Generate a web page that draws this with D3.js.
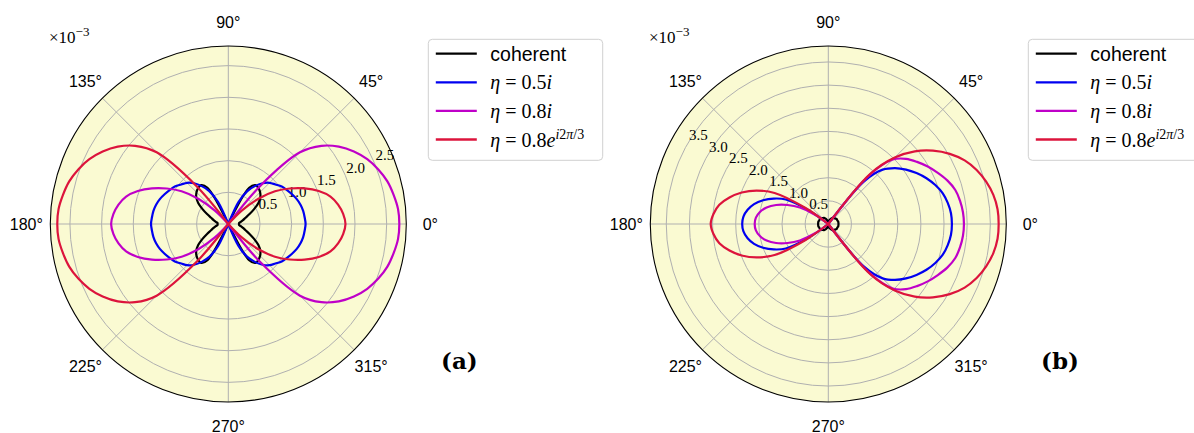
<!DOCTYPE html>
<html>
<head>
<meta charset="utf-8">
<script src="https://cdn.jsdelivr.net/npm/d3@7/dist/d3.min.js"></script>
<style>
body { margin: 0; background: #fff; }
svg { display: block; }
</style>
</head>
<body>
<div id="chart"></div>
<script>
// polar angle of every sample, degrees (0..355, step 5)
var thetaDeg = d3.range(0, 360, 5);

var angleTicks = [0, 45, 90, 135, 180, 225, 270, 315];
var rTicksA = [0.5, 1.0, 1.5, 2.0, 2.5];
var rTicksB = [0.5, 1.0, 1.5, 2.0, 2.5, 3.0, 3.5];

var seriesColors = ["#000000", "#0000f0", "#bf00c8", "#dc143c"];

// values in units of 1e-3, one per angle in thetaDeg
// panel (a)
var coherentA = [0.17,0.17,0.20,0.24,0.29,0.37,0.47,0.58,0.66,0.71,0.74,0.75,0.66,0,
  0,0,0,0,0,0,0,0,0,
  0,0.66,0.75,0.74,0.71,0.66,0.58,0.47,0.37,0.29,0.24,0.20,0.17,0.17,
  0.17,0.20,0.24,0.29,0.37,0.47,0.58,0.66,0.71,0.74,0.75,0.66,0,
  0,0,0,0,0,0,0,0,0,
  0,0.66,0.75,0.74,0.71,0.66,0.58,0.47,0.37,0.29,0.24,0.20,0.17];
var eta05A = [1.22,1.21,1.20,1.18,1.15,1.11,1.07,1.03,0.97,0.92,0.84,0.73,0.60,0.38,0,
  0,0,0,0,0,0,0,
  0,0.38,0.60,0.73,0.84,0.92,0.97,1.03,1.07,1.11,1.15,1.18,1.20,1.21,1.22,
  1.21,1.20,1.18,1.15,1.11,1.07,1.03,0.97,0.92,0.84,0.73,0.60,0.38,0,
  0,0,0,0,0,0,0,
  0,0.38,0.60,0.73,0.84,0.92,0.97,1.03,1.07,1.11,1.15,1.18,1.20,1.21];
var eta08A = [2.70,2.69,2.65,2.60,2.52,2.42,2.29,2.13,1.92,1.60,0.79,0,
  0,0,0,0,0,0,0,0,0,0,0,0,0,0,
  0,0.30,0.62,0.90,1.12,1.33,1.52,1.67,1.76,1.82,1.85,
  1.82,1.76,1.67,1.52,1.33,1.12,0.90,0.62,0.30,0,
  0,0,0,0,0,0,0,0,0,0,0,0,0,0,
  0,0.79,1.60,1.92,2.13,2.29,2.42,2.52,2.60,2.65,2.69];
var eta08expA = [1.85,1.82,1.76,1.67,1.52,1.33,1.12,0.90,0.62,0.30,0,0,
  0,0,0,0,0,0,0,0,0,0,0,0,0,0,
  0.79,1.60,1.92,2.13,2.29,2.42,2.52,2.60,2.65,2.69,2.70,
  2.69,2.65,2.60,2.52,2.42,2.29,2.13,1.92,1.60,0.79,
  0,0,0,0,0,0,0,0,0,0,0,0,0,0,
  0,0,0.30,0.62,0.90,1.12,1.33,1.52,1.67,1.76,1.82];

// panel (b)
var coherentB = [0.22,0.22,0.22,0.22,0.21,0.21,0.21,0.20,0.19,0.18,0.17,0.16,0.14,0.12,0.10,0.08,0.05,0.03,0,
  0.03,0.05,0.08,0.10,0.12,0.14,0.16,0.17,0.18,0.19,0.20,0.21,0.21,0.21,0.22,0.22,0.22,0.22,
  0.22,0.22,0.22,0.21,0.21,0.21,0.20,0.19,0.18,0.17,0.16,0.14,0.12,0.10,0.08,0.05,0.03,0,
  0.03,0.05,0.08,0.10,0.12,0.14,0.16,0.17,0.18,0.19,0.20,0.21,0.21,0.21,0.22,0.22,0.22];
var eta05B = [2.67,2.66,2.62,2.56,2.46,2.34,2.20,2.05,1.88,1.66,1.21,0,
  0,0,0,0,0,0,0,0,0,0,0,0,0,0,0,0,
  0,0.52,1.06,1.30,1.50,1.66,1.77,1.84,1.86,
  1.84,1.77,1.66,1.50,1.30,1.06,0.52,0,
  0,0,0,0,0,0,0,0,0,0,0,0,0,0,0,0,
  0,1.21,1.66,1.88,2.05,2.20,2.34,2.46,2.56,2.62,2.66];
var eta08B = [2.93,2.92,2.89,2.84,2.74,2.61,2.48,2.34,2.19,1.97,1.38,0,
  0,0,0,0,0,0,0,0,0,0,0,0,0,0,0,0,
  0,0.35,0.71,0.97,1.20,1.38,1.50,1.57,1.59,
  1.57,1.50,1.38,1.20,0.97,0.71,0.35,0,
  0,0,0,0,0,0,0,0,0,0,0,0,0,0,0,0,
  0,1.38,1.97,2.19,2.34,2.48,2.61,2.74,2.84,2.89,2.92];
var eta08expB = [3.68,3.67,3.62,3.53,3.41,3.25,3.03,2.76,2.44,2.03,1.43,0,
  0,0,0,0,0,0,0,0,0,0,0,0,0,0,0,0,
  0,0.60,1.34,1.71,1.99,2.21,2.39,2.49,2.54,
  2.49,2.39,2.21,1.99,1.71,1.34,0.60,0,
  0,0,0,0,0,0,0,0,0,0,0,0,0,0,0,0,
  0,1.43,2.03,2.44,2.76,3.03,3.25,3.41,3.53,3.62,3.67];

// legend text pieces: [text, style]
var legendItems = [
  [["coherent", "sans"]],
  [["η", "it"], [" = 0.5", "rm"], ["i", "it"]],
  [["η", "it"], [" = 0.8", "rm"], ["i", "it"]],
  [["η", "it"], [" = 0.8", "rm"], ["e", "it"], ["i", "supit"], ["2", "sup"], ["π", "supit"], ["/3", "sup"]]
];

var width = 1194, height = 433;
var svg = d3.select("#chart").append("svg")
  .attr("width", width)
  .attr("height", height);

function drawPanel(cx, cy, R, rmax, rTicks, labelAngle, series, legendX, tag, tagX, expX) {
  var g = svg.append("g");
  var rScale = d3.scaleLinear().domain([0, rmax]).range([0, R]);

  g.append("circle")
    .attr("cx", cx).attr("cy", cy).attr("r", R)
    .attr("fill", "#fafad2");

  // grid
  g.selectAll(".ring")
    .data(rTicks)
    .enter()
    .append("circle")
    .attr("cx", cx).attr("cy", cy)
    .attr("r", d => rScale(d))
    .attr("fill", "none")
    .attr("stroke", "#b0b0b0")
    .attr("stroke-width", 1);

  g.selectAll(".spoke")
    .data(angleTicks)
    .enter()
    .append("line")
    .attr("x1", cx).attr("y1", cy)
    .attr("x2", d => cx + R * Math.cos(d * Math.PI / 180))
    .attr("y2", d => cy - R * Math.sin(d * Math.PI / 180))
    .attr("stroke", "#b0b0b0")
    .attr("stroke-width", 1);

  // radial tick labels
  var la = labelAngle * Math.PI / 180;
  g.selectAll(".rlab")
    .data(rTicks)
    .enter()
    .append("text")
    .attr("x", d => cx + rScale(d) * Math.cos(la) + 1)
    .attr("y", d => cy - rScale(d) * Math.sin(la) - 3)
    .attr("font-family", "Liberation Serif, serif")
    .attr("font-size", "15px")
    .attr("fill", "#000")
    .text(d => d3.format(".1f")(d));

  // curves
  var line = d3.lineRadial()
    .angle(d => (90 - d[0]) * Math.PI / 180)
    .radius(d => rScale(d[1]))
    .curve(d3.curveCatmullRomClosed.alpha(0.5));

  var curveGroup = g.append("g").attr("transform", "translate(" + cx + "," + cy + ")");
  series.forEach(function(vals, i) {
    var pts = thetaDeg.map((t, j) => [t, vals[j]]);
    curveGroup.append("path")
      .attr("d", line(pts))
      .attr("fill", "none")
      .attr("stroke", seriesColors[i])
      .attr("stroke-width", 2.2)
      .attr("stroke-linejoin", "round");
  });

  g.append("circle")
    .attr("cx", cx).attr("cy", cy).attr("r", R)
    .attr("fill", "none")
    .attr("stroke", "#000")
    .attr("stroke-width", 1.1);

  // angle labels
  g.selectAll(".alab")
    .data(angleTicks)
    .enter()
    .append("text")
    .attr("x", d => cx + 202 * Math.cos(d * Math.PI / 180))
    .attr("y", d => cy - 202 * Math.sin(d * Math.PI / 180))
    .attr("text-anchor", "middle")
    .attr("dominant-baseline", "central")
    .attr("font-family", "Liberation Sans, Arial, sans-serif")
    .attr("font-size", "16px")
    .attr("fill", "#000")
    .text(d => d + "°");

  // x10^-3
  var ex = g.append("text")
    .attr("x", expX).attr("y", 42.5)
    .attr("font-family", "Liberation Serif, serif")
    .attr("font-size", "17px")
    .attr("fill", "#000");
  ex.append("tspan").text("×10");
  ex.append("tspan").attr("dy", -7).attr("font-size", "13px").text("−3");

  // legend
  var lg = g.append("g");
  lg.append("rect")
    .attr("x", legendX).attr("y", 39.3)
    .attr("width", 174.4).attr("height", 121)
    .attr("rx", 4)
    .attr("fill", "#fff").attr("fill-opacity", 0.8)
    .attr("stroke", "#d0d0d0").attr("stroke-width", 1);

  legendItems.forEach(function(parts, i) {
    var y = 53.7 + i * 28.6;
    lg.append("line")
      .attr("x1", legendX + 7.5).attr("x2", legendX + 48.5)
      .attr("y1", y).attr("y2", y)
      .attr("stroke", seriesColors[i])
      .attr("stroke-width", 2.3);
    var t = lg.append("text")
      .attr("x", legendX + 62)
      .attr("y", y + (i === 0 ? 7.5 : 7))
      .attr("fill", "#000");
    var raised = false;
    parts.forEach(function(p) {
      var s = t.append("tspan").text(p[0]);
      if (p[1] === "sans") {
        s.attr("font-family", "Liberation Sans, Arial, sans-serif").attr("font-size", "19.5px");
      } else {
        s.attr("font-family", "Liberation Serif, serif")
          .attr("font-size", p[1].indexOf("sup") === 0 ? "14px" : "20px")
          .attr("font-style", p[1].indexOf("it") >= 0 ? "italic" : "normal");
        if (p[1].indexOf("sup") === 0 && !raised) { s.attr("dy", -8); raised = true; }
      }
    });
  });

  g.append("text")
    .attr("x", tagX).attr("y", 369)
    .attr("font-family", "DejaVu Serif, serif")
    .attr("font-weight", "bold")
    .attr("font-size", "23px")
    .attr("fill", "#000")
    .text(tag);
}

drawPanel(228.3, 224, 178, 2.81, rTicksA, 22.5,
  [coherentA, eta05A, eta08A, eta08expA], 428.3, "(a)", 441, 49);
drawPanel(828.3, 224, 178, 3.845, rTicksB, 150,
  [coherentB, eta05B, eta08B, eta08expB], 1028.3, "(b)", 1041, 649);
</script>
</body>
</html>
